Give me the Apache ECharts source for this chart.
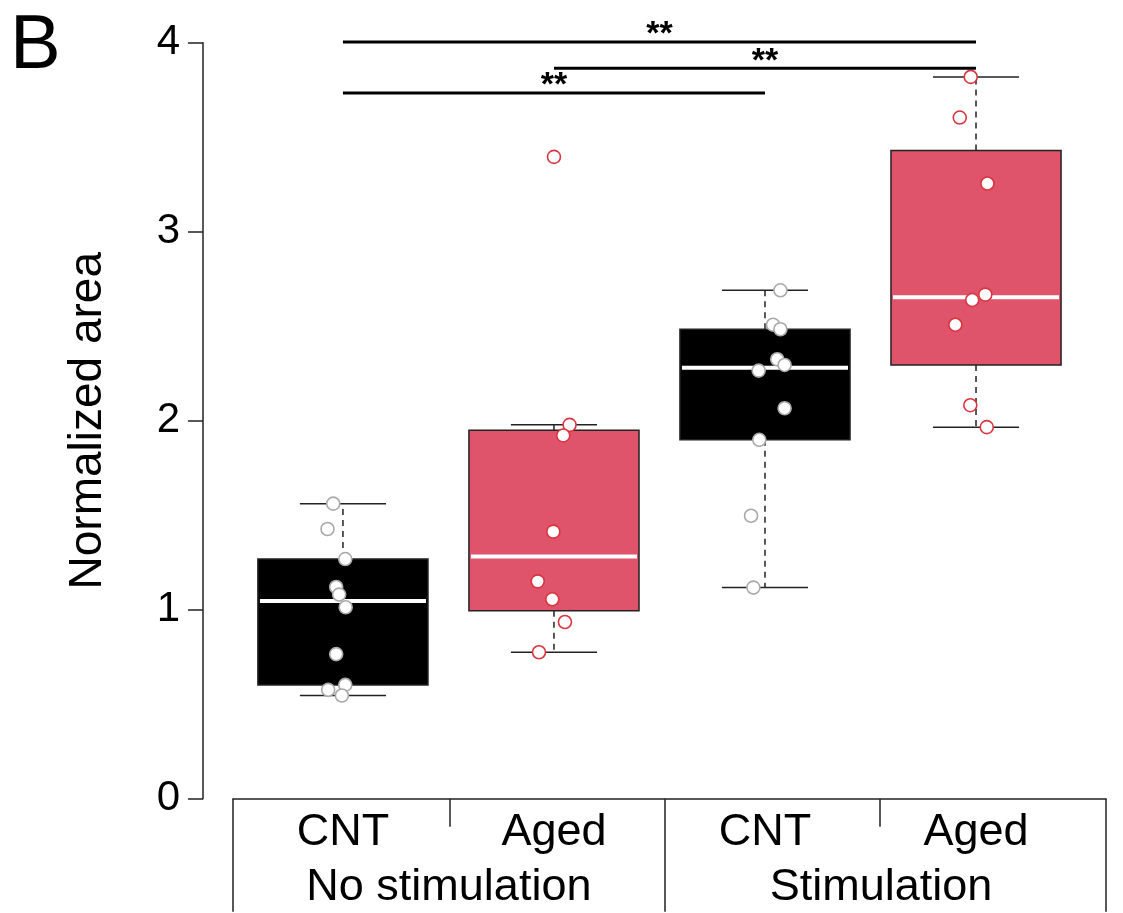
<!DOCTYPE html>
<html>
<head>
<meta charset="utf-8">
<script src="https://cdn.jsdelivr.net/npm/echarts@6/dist/echarts.min.js"></script>
<style>
  html, body { margin: 0; padding: 0; background: #fff; }
  #chart { width: 1123px; height: 913px; }
</style>
</head>
<body>
<div id="chart"></div>
<script>
// ---------------- DATA ----------------
const groupLabels = ['CNT', 'Aged', 'CNT', 'Aged'];
const conditionLabels = ['No stimulation', 'Stimulation'];
const yTicks = [0, 1, 2, 3, 4];
const yTitle = 'Normalized area';
const panelLabel = 'B';

// individual observations (normalized area) and their horizontal jitter (in group units)
const cntNoStim       = [1.561, 1.427, 1.268, 1.120, 1.080, 1.013, 0.765, 0.602, 0.576, 0.546];
const cntNoStimJitter = [-0.046, -0.073, 0.011, -0.032, -0.018, 0.013, -0.032, 0.011, -0.070, -0.005];
const agedNoStim       = [3.396, 1.978, 1.922, 1.413, 1.150, 1.055, 0.935, 0.775];
const agedNoStimJitter = [0.000, 0.074, 0.044, -0.003, -0.077, -0.008, 0.052, -0.071];
const cntStim       = [2.690, 2.508, 2.484, 2.325, 2.295, 2.265, 2.066, 1.899, 1.497, 1.117];
const cntStimJitter = [0.073, 0.038, 0.073, 0.058, 0.093, -0.030, 0.093, -0.027, -0.066, -0.055];
const agedStim       = [3.819, 3.604, 3.255, 2.667, 2.639, 2.508, 2.082, 1.966];
const agedStimJitter = [-0.025, -0.077, 0.054, 0.044, -0.018, -0.098, -0.027, 0.051];

// significance brackets: from group, to group (1-based), height, label
const sigFrom  = [1, 2, 1];
const sigTo    = [4, 4, 3];
const sigLevel = [4.004, 3.865, 3.734];
const sigLabel = ['**', '**', '**'];

// ---------------- LAYOUT / STYLE ----------------
const FONT = "'Liberation Sans', Arial, Helvetica, sans-serif";
const separators = [0.479, 1.507, 2.526, 3.545, 4.616]; // table lines below the axis (x units)
const conditionCenters = [1.502, 3.55];
const boxHalf = 0.403, stapleHalf = 0.204;
const boxFill = ['#000000', '#DF536B', '#000000', '#DF536B'];
const pointStroke = ['#a9a9a9', '#d9343f', '#a9a9a9', '#d9343f'];

// ---------------- STATS (R boxplot rules) ----------------
function fivenum(arr) {
  const x = arr.slice().sort((a, b) => a - b);
  const n = x.length;
  const n4 = Math.floor((n + 3) / 2) / 2;
  const d = [1, n4, (n + 1) / 2, n + 1 - n4, n];
  return d.map(v => 0.5 * (x[Math.floor(v) - 1] + x[Math.ceil(v) - 1]));
}
function boxStats(arr) {
  const f = fivenum(arr);
  const iqr = f[3] - f[1];
  const lowFence = f[1] - 1.5 * iqr, highFence = f[3] + 1.5 * iqr;
  const inside = arr.filter(v => v >= lowFence && v <= highFence);
  return [Math.min(...inside), f[1], f[2], f[3], Math.max(...inside)];
}

const groups = [
  { vals: cntNoStim, jit: cntNoStimJitter },
  { vals: agedNoStim, jit: agedNoStimJitter },
  { vals: cntStim, jit: cntStimJitter },
  { vals: agedStim, jit: agedStimJitter }
];
const boxData = groups.map((g, i) => [i + 1].concat(boxStats(g.vals)));

function nearestLabel(values, labels, v) {
  let best = 0;
  values.forEach((c, i) => { if (Math.abs(c - v) < Math.abs(values[best] - v)) best = i; });
  return labels[best];
}

const chart = echarts.init(document.getElementById('chart'), null, { renderer: 'canvas' });

const series = [];
series.push({
  type: 'custom',
  name: 'boxes',
  data: boxData,
  z: 2,
  renderItem: function (params, api) {
    const x = api.value(0);
    const lo = api.coord([x, api.value(1)]);
    const q1 = api.coord([x, api.value(2)]);
    const md = api.coord([x, api.value(3)]);
    const q3 = api.coord([x, api.value(4)]);
    const hi = api.coord([x, api.value(5)]);
    const cx = lo[0];
    const hw = api.size([boxHalf, 0])[0];
    const sw = api.size([stapleHalf, 0])[0];
    const dash = { stroke: '#222', lineWidth: 1.5, lineDash: [6, 5] };
    const solid = { stroke: '#222', lineWidth: 1.5 };
    return {
      type: 'group',
      children: [
        { type: 'line', shape: { x1: cx, y1: q3[1], x2: cx, y2: hi[1] }, style: dash },
        { type: 'line', shape: { x1: cx, y1: q1[1], x2: cx, y2: lo[1] }, style: dash },
        { type: 'line', shape: { x1: cx - sw, y1: hi[1], x2: cx + sw, y2: hi[1] }, style: solid },
        { type: 'line', shape: { x1: cx - sw, y1: lo[1], x2: cx + sw, y2: lo[1] }, style: solid },
        { type: 'rect', shape: { x: cx - hw, y: q3[1], width: 2 * hw, height: q1[1] - q3[1] },
          style: { fill: boxFill[params.dataIndex], stroke: '#222', lineWidth: 1.5 } },
        { type: 'line', shape: { x1: cx - hw + 2, y1: md[1], x2: cx + hw - 2, y2: md[1] },
          style: { stroke: '#ffffff', lineWidth: 4 } }
      ]
    };
  }
});

groups.forEach((g, i) => {
  series.push({
    type: 'scatter',
    name: groupLabels[i] + ' ' + (i + 1),
    data: g.vals.map((v, k) => [i + 1 + g.jit[k], v]),
    symbol: 'circle',
    symbolSize: 13,
    z: 5,
    itemStyle: { color: '#ffffff', borderColor: pointStroke[i], borderWidth: 1.6, opacity: 1 }
  });
});

series.push({
  type: 'custom',
  name: 'significance',
  data: sigFrom.map((f, i) => [f, sigTo[i], sigLevel[i]]),
  z: 6,
  clip: false,
  renderItem: function (params, api) {
    const a = api.coord([api.value(0), api.value(2)]);
    const b = api.coord([api.value(1), api.value(2)]);
    return {
      type: 'group',
      children: [
        { type: 'line', shape: { x1: a[0], y1: a[1], x2: b[0], y2: b[1] }, style: { stroke: '#000', lineWidth: 3 } },
        { type: 'text', style: { text: sigLabel[params.dataIndex], x: (a[0] + b[0]) / 2, y: a[1] - 7,
          align: 'center', verticalAlign: 'middle', fontSize: 34, fontFamily: FONT, fontWeight: 'bold', fill: '#000' } }
      ]
    };
  }
});

const axisMin = separators[0], axisMax = separators[separators.length - 1];

chart.setOption({
  animation: false,
  backgroundColor: '#ffffff',
  textStyle: { fontFamily: FONT },
  grid: { left: 233, right: 1123 - 1106, top: 42.7, bottom: 114.3, containLabel: false, outerBoundsMode: 'none' },
  xAxis: [
    {
      type: 'value', min: axisMin, max: axisMax, position: 'bottom',
      axisLine: { show: true, onZero: false, lineStyle: { color: '#222', width: 1.5 } },
      splitLine: { show: false },
      axisTick: { show: true, customValues: [separators[1], separators[3]], length: 28, lineStyle: { color: '#222', width: 1.5 } },
      axisLabel: { show: true, customValues: [1, 2, 3, 4], margin: 11, fontSize: 45, color: '#000', fontFamily: FONT,
        formatter: v => nearestLabel([1, 2, 3, 4], groupLabels, v) }
    },
    {
      type: 'value', min: axisMin, max: axisMax, position: 'bottom', offset: 0,
      axisLine: { show: false },
      splitLine: { show: false },
      axisTick: { show: true, customValues: [separators[0], separators[2], separators[4]], length: 113, lineStyle: { color: '#222', width: 1.5 } },
      axisLabel: { show: true, customValues: conditionCenters, margin: 66, fontSize: 45, color: '#000', fontFamily: FONT,
        formatter: v => nearestLabel(conditionCenters, conditionLabels, v) }
    }
  ],
  yAxis: {
    type: 'value', min: yTicks[0], max: yTicks[yTicks.length - 1], interval: 1, offset: 30,
    axisLine: { show: true, lineStyle: { color: '#222', width: 1.5 } },
    axisTick: { show: true, length: 15, lineStyle: { color: '#222', width: 1.5 } },
    axisLabel: { fontSize: 42, color: '#000', margin: 23, fontFamily: FONT, padding: [8, 0, 0, 0] },
    splitLine: { show: false },
    name: yTitle, nameLocation: 'middle', nameGap: 92,
    nameTextStyle: { fontSize: 46, color: '#000', fontFamily: FONT }
  },
  graphic: [
    { type: 'text', left: 10, top: 9, style: { text: panelLabel, fontSize: 76, fontFamily: FONT, fill: '#000' } }
  ],
  series: series
});
</script>
</body>
</html>
